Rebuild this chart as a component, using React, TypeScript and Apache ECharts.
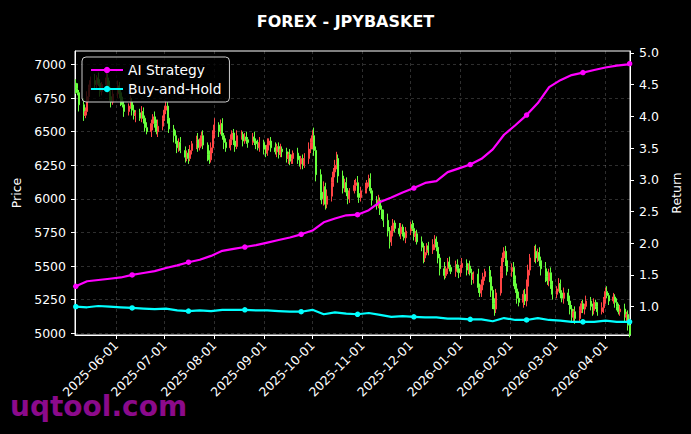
import React, { useEffect, useRef } from "react";
import * as echarts from "echarts";

const startDate = "2025-05-07";
const firstOpen = 6860;
const closes = [
  6820, 6790, 6700, 6620, 6650, 6760, 6830, 6880, 6850, 6900,
  6860, 6800, 6850, 6900, 6830, 6760, 6720, 6780, 6840, 6790,
  6720, 6700, 6650, 6690, 6720, 6660, 6620, 6640, 6600, 6650,
  6600, 6530, 6500, 6560, 6610, 6560, 6500, 6540, 6600, 6660,
  6690, 6600, 6520, 6470, 6430, 6380, 6420, 6360, 6310, 6340,
  6300, 6360, 6410, 6440, 6380, 6430, 6470, 6400, 6330, 6290,
  6380, 6480, 6550, 6500, 6560, 6470, 6420, 6380, 6440, 6490,
  6430, 6390, 6470, 6480, 6430, 6460, 6440, 6420, 6460, 6430,
  6410, 6380, 6420, 6370, 6340, 6400, 6430, 6380, 6350, 6390,
  6330, 6370, 6350, 6300, 6330, 6280, 6300, 6340, 6290, 6260,
  6300, 6250, 6300, 6370, 6420, 6470, 6360, 6180, 6050, 6000,
  6090, 5960, 6020, 6120, 6200, 6250, 6300, 6170, 6080, 6120,
  6050, 6000, 6060, 6100, 6120, 6040, 6010, 6060, 6080, 6120,
  6150, 6060, 5990, 5950, 5990, 5920, 5880, 5840, 5760, 5680,
  5760, 5820, 5780, 5740, 5790, 5750, 5710, 5760, 5810, 5780,
  5720, 5740, 5680, 5640, 5560, 5600, 5650, 5620, 5660, 5700,
  5640, 5560, 5480, 5430, 5480, 5530, 5490, 5460, 5510, 5480,
  5450, 5490, 5520, 5470, 5500, 5450, 5400, 5440, 5340, 5300,
  5360, 5420, 5460, 5420, 5320, 5220, 5180, 5300, 5450, 5560,
  5610, 5540, 5460, 5490, 5400, 5330, 5260, 5230, 5290, 5240,
  5350, 5470, 5560, 5610, 5560, 5600, 5540, 5480, 5420, 5390,
  5450, 5360, 5290, 5330, 5370, 5300, 5260, 5300, 5240, 5180,
  5120, 5160, 5110, 5170, 5220, 5180, 5200, 5240, 5200, 5170,
  5230, 5200, 5160, 5190, 5250, 5310, 5280, 5240, 5270, 5230,
  5200, 5160, 5180, 5120, 5140, 5060, 4990,
];
// upper and lower wick lengths (price units) of each daily candle
const wickHi = [
  30, 40, 20, 50, 30, 40, 20, 30, 50, 20,
  40, 30, 20, 40, 30, 50, 20, 30, 40, 30,
  20, 40, 30, 20, 50, 30, 40, 20, 30, 40,
  30, 20, 40, 30, 20, 40, 30, 50, 20, 30,
  40, 30, 20, 30, 40, 20, 30, 40, 30, 20,
  30, 40, 20, 30, 50, 20, 30, 40, 20, 30,
  40, 30, 50, 20, 30, 40, 20, 30, 40, 20,
  30, 20, 40, 30, 20, 30, 40, 20, 30, 40,
  20, 30, 40, 20, 30, 50, 20, 30, 40, 20,
  30, 40, 20, 30, 20, 40, 30, 20, 40, 30,
  20, 30, 40, 50, 30, 40, 60, 30, 40, 50,
  40, 30, 50, 40, 30, 40, 50, 30, 40, 30,
  40, 30, 20, 40, 30, 50, 20, 30, 40, 20,
  30, 40, 20, 30, 40, 20, 30, 40, 50, 30,
  40, 30, 20, 40, 30, 20, 40, 30, 20, 30,
  40, 20, 30, 40, 30, 50, 20, 30, 40, 30,
  20, 40, 30, 50, 20, 30, 40, 20, 30, 40,
  30, 20, 40, 30, 20, 40, 30, 20, 40, 30,
  40, 30, 20, 40, 50, 30, 40, 30, 50, 40,
  30, 40, 50, 30, 40, 30, 40, 50, 30, 40,
  50, 40, 30, 40, 50, 30, 40, 30, 50, 40,
  30, 40, 30, 20, 40, 30, 20, 40, 30, 40,
  30, 20, 40, 30, 20, 30, 20, 40, 30, 20,
  30, 20, 30, 40, 20, 30, 40, 20, 30, 20,
  30, 20, 30, 40, 20, 30, 10,
];
const wickLo = [
  40, 20, 50, 40, 20, 30, 40, 20, 30, 40,
  20, 40, 30, 20, 40, 30, 40, 20, 30, 40,
  30, 20, 40, 30, 20, 40, 30, 50, 20, 30,
  40, 30, 20, 40, 50, 30, 20, 40, 30, 20,
  30, 40, 30, 50, 20, 40, 30, 20, 40, 30,
  40, 20, 30, 40, 30, 20, 40, 30, 50, 30,
  20, 40, 30, 40, 20, 30, 50, 30, 20, 40,
  30, 40, 20, 30, 40, 20, 30, 40, 20, 30,
  40, 20, 30, 40, 30, 20, 40, 30, 20, 40,
  30, 20, 40, 30, 40, 30, 20, 40, 30, 20,
  40, 30, 20, 40, 30, 50, 40, 50, 60, 40,
  50, 40, 30, 40, 30, 40, 30, 50, 40, 30,
  30, 40, 30, 20, 40, 30, 40, 30, 20, 40,
  30, 20, 40, 30, 20, 40, 30, 50, 40, 50,
  30, 40, 30, 20, 40, 30, 20, 40, 30, 20,
  30, 40, 20, 30, 40, 30, 20, 40, 30, 40,
  30, 40, 50, 30, 20, 40, 30, 20, 40, 30,
  40, 30, 20, 40, 30, 20, 40, 30, 40, 30,
  30, 40, 30, 40, 50, 40, 50, 30, 20, 40,
  30, 40, 30, 40, 50, 30, 40, 30, 40, 30,
  40, 30, 40, 30, 40, 30, 40, 50, 40, 30,
  40, 30, 40, 30, 20, 40, 30, 40, 30, 40,
  40, 30, 40, 30, 20, 30, 40, 20, 30, 40,
  30, 20, 30, 20, 40, 30, 20, 30, 20, 40,
  30, 20, 30, 40, 30, 40, 20,
];

// return curves, one value every 5 trading days (plus the last day)
const returnStep = 5;
const aiStrategy = [
  1.32, 1.40, 1.42, 1.44, 1.46, 1.50, 1.53, 1.56, 1.61, 1.65,
  1.70, 1.74, 1.80, 1.88, 1.91, 1.94, 1.97, 2.01, 2.05, 2.09,
  2.14, 2.20, 2.33, 2.39, 2.44, 2.45, 2.52, 2.65, 2.72, 2.80,
  2.87, 2.95, 2.98, 3.12, 3.18, 3.24, 3.33, 3.48, 3.71, 3.86,
  4.02, 4.21, 4.46, 4.57, 4.65, 4.69, 4.73, 4.77, 4.80, 4.82,
  4.83,
];
const buyHold = [
  1.00, 0.99, 1.01, 1.00, 0.99, 0.98, 0.97, 0.96, 0.97, 0.94,
  0.93, 0.94, 0.93, 0.95, 0.95, 0.95, 0.94, 0.94, 0.93, 0.92,
  0.92, 0.95, 0.88, 0.91, 0.89, 0.88, 0.90, 0.87, 0.84, 0.85,
  0.84, 0.83, 0.83, 0.81, 0.81, 0.80, 0.80, 0.77, 0.82, 0.79,
  0.79, 0.82, 0.79, 0.78, 0.76, 0.76, 0.76, 0.78, 0.76, 0.76,
  0.76,
];

const monthTicks = [
  "2025-06-01", "2025-07-01", "2025-08-01", "2025-09-01", "2025-10-01",
  "2025-11-01", "2025-12-01", "2026-01-01", "2026-02-01", "2026-03-01",
  "2026-04-01",
];
const priceTicks = [5000, 5250, 5500, 5750, 6000, 6250, 6500, 6750, 7000];
const returnTicks = [1.0, 1.5, 2.0, 2.5, 3.0, 3.5, 4.0, 4.5, 5.0];

const RED = "#ff4444";
const GREEN = "#66ff3c";
const FONT = "DejaVu Sans";

function tradingDays(start: string, n: number): number[] {
  const out: number[] = [];
  let t = Date.parse(start + "T00:00:00Z");
  while (out.length < n) {
    const d = new Date(t).getUTCDay();
    if (d !== 0 && d !== 6) out.push(t);
    t += 86400000;
  }
  return out;
}

export default function App() {
  const ref = useRef<HTMLDivElement>(null);
  useEffect(() => {
    if (!ref.current) return;
    const chart = echarts.init(ref.current, null, { renderer: "svg" });
    const days = tradingDays(startDate, closes.length);
    const candleData = closes.map((c, i) => {
      const o = i === 0 ? firstOpen : closes[i - 1];
      return [
        days[i],
        o,
        c,
        Math.min(o, c) - wickLo[i],
        Math.max(o, c) + wickHi[i],
      ];
    });
    const retIdx = aiStrategy.map((_, k) =>
      Math.min(k * returnStep, closes.length - 1)
    );
    const aiData = aiStrategy.map((v, k) => [days[retIdx[k]], v]);
    const bhData = buyHold.map((v, k) => [days[retIdx[k]], v]);
    const monthTs = monthTicks.map((s) => Date.parse(s + "T00:00:00Z"));
    const xMin = Date.parse("2025-05-06T12:00:00Z");
    const xMax = Date.parse("2026-04-16T06:00:00Z");
    const markerSize = (_v: any, p: any) =>
      p && p.dataIndex % 5 === 0 ? 5.5 : 0;

    const splitLine = {
      show: true,
      lineStyle: { color: "rgba(255,255,255,0.3)", type: [3, 3], width: 0.6 },
    };

    chart.setOption({
      animation: false,
      backgroundColor: "#000000",
      textStyle: { fontFamily: FONT },
      title: {
        text: "FOREX - JPYBASKET",
        left: "center",
        top: 8,
        textStyle: { color: "#ffffff", fontSize: 16, fontWeight: "bold", fontFamily: FONT },
      },
      grid: {
        left: 75,
        right: 61,
        top: 51,
        bottom: 99,
        show: true,
        borderColor: "#ffffff",
        borderWidth: 1,
        backgroundColor: "#000000",
      },
      legend: {
        data: ["AI Strategy", "Buy-and-Hold"],
        orient: "vertical",
        left: 82,
        top: 57,
        backgroundColor: "rgba(0,0,0,0.8)",
        borderColor: "#cccccc",
        borderWidth: 1,
        borderRadius: 4,
        padding: [6, 8, 6, 8],
        itemGap: 5,
        itemWidth: 32,
        itemHeight: 8,
        textStyle: { color: "#ffffff", fontSize: 13.8, fontFamily: FONT },
      },
      xAxis: {
        type: "value",
        min: xMin,
        max: xMax,
        axisLine: { show: true, lineStyle: { color: "#ffffff", width: 1 } },
        axisTick: { show: true, customValues: monthTs, length: 4, lineStyle: { color: "#ffffff" } },
        axisLabel: {
          customValues: monthTs,
          rotate: 45,
          margin: 8,
          color: "#ffffff",
          fontSize: 12.5,
          fontFamily: FONT,
          formatter: (v: number) => {
            const k = monthTs.indexOf(v);
            return k >= 0 ? monthTicks[k] : "";
          },
        },
        splitLine,
      },
      yAxis: [
        {
          type: "value",
          position: "left",
          min: 4987,
          max: 7100,
          name: "Price",
          nameLocation: "middle",
          nameGap: 49,
          nameTextStyle: { color: "#ffffff", fontSize: 12.5, fontFamily: FONT },
          axisLine: { show: true, lineStyle: { color: "#ffffff" } },
          axisTick: { show: true, customValues: priceTicks, length: 4, lineStyle: { color: "#ffffff" } },
          axisLabel: {
            customValues: priceTicks,
            color: "#ffffff",
            fontSize: 12.5,
            margin: 9,
            fontFamily: FONT,
            formatter: (v: number) => String(v),
          },
          splitLine,
        },
        {
          type: "value",
          position: "right",
          min: 0.553,
          max: 5.03,
          name: "Return",
          nameLocation: "middle",
          nameGap: 36,
          nameTextStyle: { color: "#ffffff", fontSize: 12.5, fontFamily: FONT },
          axisLine: { show: true, lineStyle: { color: "#ffffff" } },
          axisTick: { show: true, customValues: returnTicks, length: 4, lineStyle: { color: "#ffffff" } },
          axisLabel: {
            customValues: returnTicks,
            color: "#ffffff",
            fontSize: 12.5,
            margin: 9,
            fontFamily: FONT,
            formatter: (v: number) => v.toFixed(1),
          },
          splitLine: { show: false },
        },
      ],
      series: [
        {
          name: "Price",
          type: "candlestick",
          xAxisIndex: 0,
          yAxisIndex: 0,
          data: candleData,
          encode: { x: 0, y: [1, 2, 3, 4] },
          barWidth: 1.5,
          clip: true,
          itemStyle: {
            color: RED,
            color0: GREEN,
            borderColor: RED,
            borderColor0: GREEN,
            borderWidth: 1,
          },
          z: 2,
        },
        {
          name: "AI Strategy",
          type: "line",
          yAxisIndex: 1,
          data: aiData,
          symbol: "circle",
          symbolSize: markerSize,
          showAllSymbol: true,
          lineStyle: { color: "#ff00ff", width: 2.2 },
          itemStyle: { color: "#ff00ff" },
          z: 5,
        },
        {
          name: "Buy-and-Hold",
          type: "line",
          yAxisIndex: 1,
          data: bhData,
          symbol: "circle",
          symbolSize: markerSize,
          showAllSymbol: true,
          lineStyle: { color: "#00ffff", width: 2.2 },
          itemStyle: { color: "#00ffff" },
          z: 5,
        },
      ],
      graphic: [
        {
          type: "text",
          left: 10,
          top: 392,
          z: 100,
          style: {
            text: "uqtool.com",
            fill: "#8b0a8b",
            font: 'bold 28px "DejaVu Sans"',
          },
        },
      ],
    });
    return () => chart.dispose();
  }, []);
  return (
    <div
      ref={ref}
      style={{ position: "fixed", left: 0, top: 0, width: 691, height: 434, background: "#000" }}
    />
  );
}
